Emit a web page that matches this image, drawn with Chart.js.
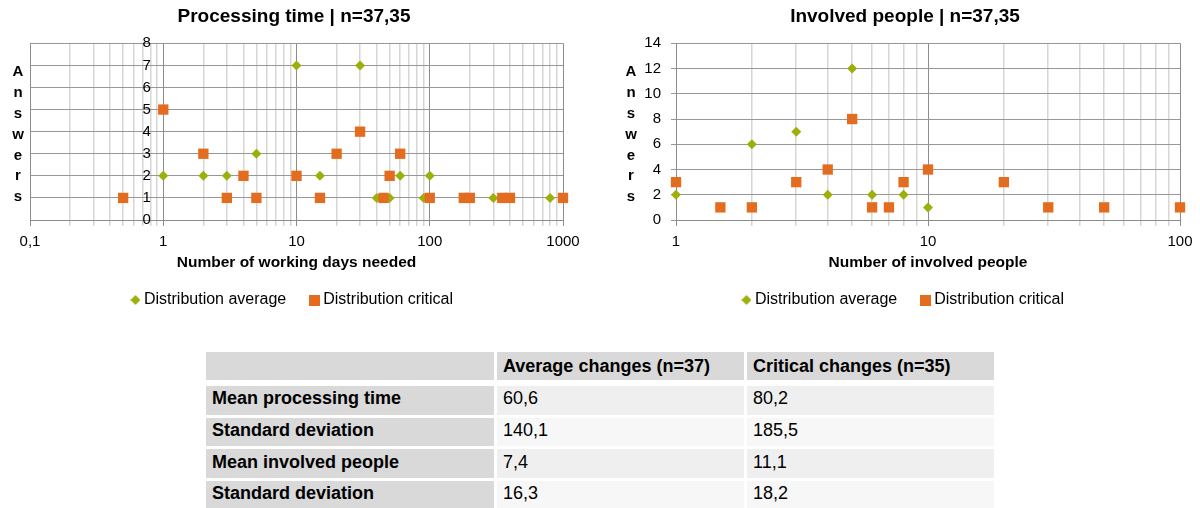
<!DOCTYPE html>
<html>
<head>
<meta charset="utf-8">
<script src="https://cdn.jsdelivr.net/npm/chart.js@4"></script>
<style>
  html, body { margin: 0; padding: 0; background: #fff; }
  body { width: 1200px; height: 508px; position: relative; overflow: hidden;
         font-family: "Liberation Sans", Arial, sans-serif; }
  .chart-box { position: absolute; top: 0; height: 318px; }
  #box-days { left: 0; width: 582px; }
  #box-people { left: 610px; width: 590px; }
  table.stats { position: absolute; left: 203px; top: 349px; border-collapse: separate;
                border-spacing: 3px; font-size: 18px; color: #000; }
  table.stats td { height: 25.7px; padding: 0 6px 3px 6px; white-space: nowrap; }
  table.stats tr.head td { background: #d9d9d9; font-weight: bold; height: 28px;
                           padding: 0 6px; border-bottom: 3px solid #fff; }
  table.stats td.label { background: #d9d9d9; font-weight: bold; width: 276px; }
  table.stats td.val { width: 235px; }
  table.stats tr.odd td.val { background: #efefef; }
  table.stats tr.even td.val { background: #f7f7f7; }
</style>
</head>
<body>
<div class="chart-box" id="box-days"><canvas id="days-chart"></canvas></div>
<div class="chart-box" id="box-people"><canvas id="people-chart"></canvas></div>
<table class="stats" id="stats-table"></table>

<script>
// ---- DATA: processing time (working days) ----
const DAYS_DECADES = [0.1, 1, 10, 100, 1000];
const DAYS_AVG_X = [1, 2, 3, 5, 10, 15, 30, 40, 50, 60, 90, 100, 300, 800];
const DAYS_AVG_Y = [2, 2, 2, 3, 7, 2, 7, 1, 1, 2, 1, 2, 1, 1];
const DAYS_CRIT_X = [0.5, 1, 2, 3, 4, 5, 10, 15, 20, 30, 45, 50, 60, 100, 180, 200, 350, 400, 1000];
const DAYS_CRIT_Y = [1, 5, 3, 1, 2, 1, 2, 1, 3, 4, 1, 2, 3, 1, 1, 1, 1, 1, 1];

// ---- DATA: involved people ----
const PEOPLE_DECADES = [1, 10, 100];
const PEOPLE_AVG_X = [1, 2, 3, 4, 5, 6, 8, 10];
const PEOPLE_AVG_Y = [2, 6, 7, 2, 12, 2, 2, 1];
const PEOPLE_CRIT_X = [1, 1.5, 2, 3, 4, 5, 6, 7, 8, 10, 20, 30, 50, 100];
const PEOPLE_CRIT_Y = [3, 1, 1, 3, 4, 8, 1, 1, 3, 4, 3, 1, 1, 1];

// ---- DATA: summary table ----
const TABLE_HEAD = ['', 'Average changes (n=37)', 'Critical changes (n=35)'];
const TABLE_ROWS = ['Mean processing time', 'Standard deviation', 'Mean involved people', 'Standard deviation'];
const TABLE_AVG = ['60,6', '140,1', '7,4', '16,3'];
const TABLE_CRIT = ['80,2', '185,5', '11,1', '18,2'];

const GREEN = '#9DAF0A';
const ORANGE = '#E46C1E';
const FONT = '"Liberation Sans", Arial, sans-serif';

Chart.defaults.font.family = FONT;
Chart.defaults.color = '#000';
Chart.defaults.animation = false;

function toPoints(xs, ys) {
  return xs.map((x, i) => ({ x: x, y: ys[i] }));
}

// log ticks 1..9 per decade, majors on powers of ten
function logTicks(decades) {
  const out = [];
  for (let d = 0; d < decades.length - 1; d++) {
    for (let k = 1; k <= 9; k++) out.push({ value: decades[d] * k, major: k === 1 });
  }
  out.push({ value: decades[decades.length - 1], major: true });
  return out;
}

// small legend markers (diamond / square) drawn once
function markerCanvas(kind, size, color) {
  const c = document.createElement('canvas');
  c.width = size; c.height = size;
  const g = c.getContext('2d');
  g.fillStyle = color;
  if (kind === 'diamond') {
    g.beginPath();
    g.moveTo(size / 2, 0); g.lineTo(size, size / 2);
    g.lineTo(size / 2, size); g.lineTo(0, size / 2);
    g.closePath(); g.fill();
  } else {
    g.fillRect(0, 0, size, size);
  }
  return c;
}
const LEGEND_MARKS = [markerCanvas('diamond', 10, GREEN), markerCanvas('square', 11, ORANGE)];

// vertical "Answers" title, one letter per line
const stackedTitlePlugin = {
  id: 'stackedTitle',
  afterDraw(chart, args, opts) {
    const c = chart.ctx;
    const { top, bottom } = chart.chartArea;
    const letters = opts.text.split('');
    const step = 20.8;
    const y0 = (top + bottom) / 2 - step * (letters.length - 1) / 2 + 3;
    c.save();
    c.font = 'bold 15px ' + FONT;
    c.fillStyle = '#000';
    c.textAlign = 'center';
    c.textBaseline = 'middle';
    letters.forEach((ch, i) => c.fillText(ch, opts.x, y0 + i * step));
    c.restore();
  },
};

function makeChart(id, cfg) {
  const decades = cfg.decades;
  return new Chart(document.getElementById(id), {
    type: 'scatter',
    data: {
      datasets: [{
        label: 'Distribution average',
        data: toPoints(cfg.avgX, cfg.avgY),
        pointStyle: 'rectRot',
        pointRadius: 5,
        pointHoverRadius: 5,
        backgroundColor: GREEN,
        borderColor: GREEN,
        borderWidth: 0,
        clip: false,
        order: 1,
      }, {
        label: 'Distribution critical',
        data: toPoints(cfg.critX, cfg.critY),
        pointStyle: 'rect',
        pointRadius: 7.3,
        pointHoverRadius: 7.3,
        backgroundColor: ORANGE,
        borderColor: ORANGE,
        borderWidth: 0,
        clip: false,
        order: 0,
      }],
    },
    options: {
      responsive: true,
      maintainAspectRatio: false,
      layout: { padding: { left: cfg.layoutLeft } },
      plugins: {
        title: {
          display: true,
          text: cfg.title,
          color: '#000',
          font: { size: 19, weight: 'bold' },
          padding: { top: 5, bottom: 15.5 },
        },
        legend: {
          position: 'bottom',
          labels: {
            usePointStyle: true,
            boxWidth: 1,
            boxHeight: 10,
            padding: 28,
            color: '#000',
            font: { size: 16 },
            sort: (a, b) => a.datasetIndex - b.datasetIndex,
            generateLabels(chart) {
              const items = Chart.defaults.plugins.legend.labels.generateLabels(chart);
              items.forEach(it => { it.pointStyle = LEGEND_MARKS[it.datasetIndex]; });
              return items;
            },
          },
        },
        tooltip: { enabled: false },
        stackedTitle: { text: 'Answers', x: cfg.answersX },
      },
      scales: {
        x: {
          type: 'logarithmic',
          min: decades[0],
          max: decades[decades.length - 1],
          afterBuildTicks(scale) { scale.ticks = logTicks(decades); },
          afterFit(scale) {
            scale.height = 44;
            scale.paddingLeft = cfg.padLeft;
            scale.paddingRight = cfg.padRight;
          },
          ticks: {
            autoSkip: false,
            maxRotation: 0,
            color: '#000',
            font: { size: 15 },
            padding: 7,
            callback(value) {
              return decades.includes(value) ? String(value).replace('.', ',') : '';
            },
          },
          grid: {
            color: ctx => (ctx.tick && ctx.tick.major) ? '#8c8c8c' : '#d6d6d6',
            lineWidth: ctx => (ctx.tick && ctx.tick.major) ? 1 : 1.5,
            tickLength: 6,
          },
          border: { color: '#8c8c8c' },
          title: {
            display: true,
            text: cfg.xTitle,
            color: '#000',
            font: { size: 15.5, weight: 'bold' },
            padding: { top: 0, bottom: -8.3 },
          },
        },
        y: {
          type: 'linear',
          position: cfg.yPosition,
          min: 0,
          max: cfg.yMax,
          afterFit: cfg.yWidth ? (scale) => { scale.width = cfg.yWidth; } : undefined,
          ticks: {
            stepSize: cfg.yStep,
            color: '#000',
            font: { size: 15 },
            padding: cfg.yPad,
            // labels of an axis placed at a value sit flush on the line; pad with spaces
            callback: value => value + cfg.ySuffix,
          },
          grid: { color: '#979797', drawTicks: true, tickLength: 5 },
          border: { color: '#8c8c8c' },
        },
      },
    },
    plugins: [stackedTitlePlugin],
  });
}

function buildTable() {
  const t = document.getElementById('stats-table');
  let html = '<tr class="head">' + TABLE_HEAD.map((h, i) =>
    '<td class="' + (i === 0 ? 'label' : 'val') + '">' + h + '</td>').join('') + '</tr>';
  TABLE_ROWS.forEach((r, i) => {
    html += '<tr class="' + (i % 2 === 0 ? 'odd' : 'even') + '">' +
      '<td class="label">' + r + '</td>' +
      '<td class="val">' + TABLE_AVG[i] + '</td>' +
      '<td class="val">' + TABLE_CRIT[i] + '</td></tr>';
  });
  t.innerHTML = html;
}

buildTable();

makeChart('days-chart', {
  title: 'Processing time | n=37,35',
  xTitle: 'Number of working days needed',
  decades: DAYS_DECADES,
  avgX: DAYS_AVG_X, avgY: DAYS_AVG_Y,
  critX: DAYS_CRIT_X, critY: DAYS_CRIT_Y,
  yMax: 8, yStep: 1,
  yPosition: { x: 1 },
  yPad: 3,
  ySuffix: '\u00a0\u00a0\u00a0',
  layoutLeft: 6,
  padLeft: 30, padRight: 19,
  answersX: 18,
});

makeChart('people-chart', {
  title: 'Involved people | n=37,35',
  xTitle: 'Number of involved people',
  decades: PEOPLE_DECADES,
  avgX: PEOPLE_AVG_X, avgY: PEOPLE_AVG_Y,
  critX: PEOPLE_CRIT_X, critY: PEOPLE_CRIT_Y,
  yMax: 14, yStep: 2,
  yPosition: 'left',
  yWidth: 66,
  yPad: 10,
  ySuffix: '',
  layoutLeft: 0,
  padLeft: 0, padRight: 20,
  answersX: 21,
});
</script>
</body>
</html>
